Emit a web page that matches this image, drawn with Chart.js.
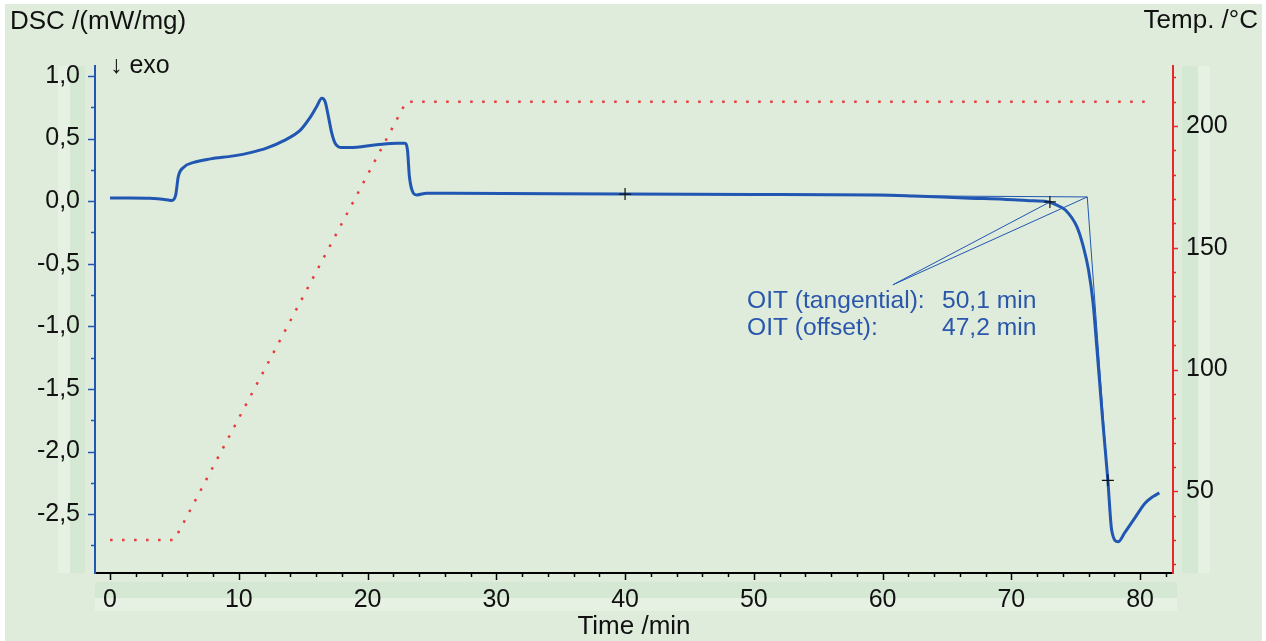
<!DOCTYPE html>
<html lang="en">
<head>
<meta charset="UTF-8" />
<title>DSC – OIT</title>
<script src="https://cdn.jsdelivr.net/npm/chart.js"></script>
<style>
  body { margin: 0; background: #fff; }
  canvas { display: block; }
</style>
</head>
<body>
<canvas id="dscChart" width="1266" height="641"></canvas>
<script>
  // DSC signal (mW/mg) over time (min)
  const dscTime = [0, 1.5, 3.1, 4.5, 4.8, 5.1, 5.3, 5.7, 6.5, 7.8, 9.6, 10.9, 12.2, 13.5, 14.8, 15.5, 16.05, 16.44, 16.7, 16.96, 17.22, 17.48, 18.0, 18.6, 20.7, 22.3, 22.9, 23.1, 23.25, 23.56, 23.82, 24.6, 26.4, 40, 50, 59.8, 62.4, 66.8, 69.4, 71.2, 72.8, 73.0, 73.5, 74.2, 75.1, 75.6, 76.0, 76.35, 76.66, 77.1, 77.5, 77.8, 78.3, 78.8, 79.6, 80.4, 81.0, 81.5];
  const dscValue = [0.026, 0.026, 0.024, 0.01, 0.005, 0.05, 0.197, 0.27, 0.31, 0.338, 0.362, 0.388, 0.426, 0.484, 0.57, 0.663, 0.756, 0.823, 0.797, 0.676, 0.543, 0.463, 0.428, 0.428, 0.45, 0.463, 0.463, 0.41, 0.197, 0.064, 0.05, 0.064, 0.064, 0.057, 0.054, 0.05, 0.042, 0.024, 0.016, 0.005, -0.004, -0.008, -0.03, -0.07, -0.205, -0.365, -0.55, -0.81, -1.19, -1.75, -2.23, -2.63, -2.72, -2.65, -2.53, -2.41, -2.36, -2.33];

  // furnace temperature (°C), right axis
  const tempTime = [0, 5.0, 23.0, 80.8];
  const tempValue = [30, 30, 210, 210];

  // evaluation marks and construction lines
  const markTime = [40.0, 73.0, 77.5];
  const markValue = [0.057, -0.006, -2.23];
  const baseTime = [40.0, 75.9];
  const baseValue = [0.057, 0.034];
  const tangentTime = [75.9, 77.5];
  const tangentValue = [0.034, -2.23];
  const pointerTime = [73.0, 60.8, 75.9];
  const pointerValue = [-0.006, -0.668, 0.034];

  const oitLabels = ['OIT (tangential):', 'OIT (offset):'];
  const oitValues = ['50,1 min', '47,2 min'];

  // tick marks
  const xTickValues = [0, 2, 4, 6, 8, 10, 12, 14, 16, 18, 20, 22, 24, 26, 28, 30, 32, 34, 36, 38, 40, 42, 44, 46, 48, 50, 52, 54, 56, 58, 60, 62, 64, 66, 68, 70, 72, 74, 76, 78, 80, 82];
  const dscTickValues = [1.0, 0.75, 0.5, 0.25, 0, -0.25, -0.5, -0.75, -1.0, -1.25, -1.5, -1.75, -2.0, -2.25, -2.5, -2.75];
  const tempTickValues = [20, 30, 40, 50, 60, 70, 80, 90, 100, 110, 120, 130, 140, 150, 160, 170, 180, 190, 200, 210, 220];

  const BLUE = '#2157b2';
  const RED = '#e8292b';
  const FONT = "'Liberation Sans', Arial, sans-serif";

  function pts(xs, ys) {
    return xs.map((x, i) => ({ x: x, y: ys[i] }));
  }

  const decor = {
    id: 'decor',
    beforeDraw(chart) {
      const ctx = chart.ctx;
      const a = chart.chartArea;
      ctx.save();
      ctx.fillStyle = '#ffffff';
      ctx.fillRect(0, 0, chart.width, chart.height);
      ctx.fillStyle = '#dfecdb';
      ctx.fillRect(5, 4, 1257, 637);
      // faint scroll strips
      ctx.fillStyle = '#e6f0e3';
      ctx.fillRect(58, a.top, 12, a.bottom - a.top);
      ctx.fillRect(1198, a.top, 12, a.bottom - a.top);
      ctx.fillRect(a.left, 598, a.right - a.left + 4, 13);
      ctx.fillStyle = '#d5e8d4';
      ctx.fillRect(70, a.top, 15, a.bottom - a.top);
      ctx.fillRect(1182, a.top, 16, a.bottom - a.top);
      ctx.fillRect(a.left, 582, a.right - a.left + 4, 16);
      ctx.restore();
    },
    afterDraw(chart) {
      const ctx = chart.ctx;
      const a = chart.chartArea;
      const sx = chart.scales.x, sy = chart.scales.y, st = chart.scales.temp;
      ctx.save();
      // tick marks
      ctx.lineWidth = 1.5;
      ctx.strokeStyle = '#000';
      xTickValues.forEach(v => {
        const px = Math.round(sx.getPixelForValue(v)) + 0.5;
        const len = v % 10 === 0 ? 7 : 4;
        ctx.beginPath(); ctx.moveTo(px, a.bottom); ctx.lineTo(px, a.bottom + len); ctx.stroke();
      });
      ctx.strokeStyle = BLUE;
      dscTickValues.forEach(v => {
        const py = Math.round(sy.getPixelForValue(v)) + 0.5;
        const len = Math.abs(v * 2 - Math.round(v * 2)) < 1e-6 ? 7 : 4;
        ctx.beginPath(); ctx.moveTo(a.left, py); ctx.lineTo(a.left - len, py); ctx.stroke();
      });
      ctx.strokeStyle = RED;
      tempTickValues.forEach(v => {
        const py = Math.round(st.getPixelForValue(v)) + 0.5;
        const len = v % 50 === 0 ? 5 : 3;
        ctx.beginPath(); ctx.moveTo(a.right, py); ctx.lineTo(a.right + len, py); ctx.stroke();
      });

      // titles
      ctx.fillStyle = '#111';
      ctx.font = '26px ' + FONT;
      ctx.textBaseline = 'alphabetic';
      ctx.textAlign = 'left';
      ctx.fillText('DSC /(mW/mg)', 10, 29);
      ctx.font = '25px ' + FONT;
      ctx.fillText('\u2193 exo', 110, 73);
      ctx.font = '26px ' + FONT;
      ctx.textAlign = 'right';
      ctx.fillText('Temp. /\u00b0C', 1258, 28);
      ctx.textAlign = 'center';
      ctx.fillText('Time /min', (a.left + a.right) / 2, 634);

      // OIT results
      ctx.font = '24.6px ' + FONT;
      ctx.fillStyle = '#2a56ab';
      ctx.textAlign = 'left';
      oitLabels.forEach((t, i) => {
        ctx.fillText(t, 747, 308 + i * 27);
        ctx.fillText(oitValues[i], 942, 308 + i * 27);
      });
      ctx.restore();
    }
  };

  new Chart(document.getElementById('dscChart'), {
    type: 'scatter',
    data: {
      datasets: [
        {
          label: 'DSC',
          data: pts(dscTime, dscValue),
          showLine: true,
          borderColor: BLUE,
          borderWidth: 3,
          pointRadius: 0,
          cubicInterpolationMode: 'monotone',
          yAxisID: 'y',
          order: 1
        },
        {
          label: 'Temp',
          data: pts(tempTime, tempValue),
          showLine: true,
          borderColor: '#e83a3a',
          borderWidth: 2.5,
          borderDash: [2.5, 9.5],
          pointRadius: 0,
          yAxisID: 'temp',
          order: 2
        },
        {
          label: 'baseline',
          data: pts(baseTime, baseValue),
          showLine: true,
          borderColor: BLUE,
          borderWidth: 1,
          pointRadius: 0,
          yAxisID: 'y',
          order: 0
        },
        {
          label: 'tangent',
          data: pts(tangentTime, tangentValue),
          showLine: true,
          borderColor: BLUE,
          borderWidth: 1,
          pointRadius: 0,
          yAxisID: 'y',
          order: 0
        },
        {
          label: 'pointer',
          data: pts(pointerTime, pointerValue),
          showLine: true,
          borderColor: BLUE,
          borderWidth: 1,
          pointRadius: 0,
          yAxisID: 'y',
          order: 0
        },
        {
          label: 'marks',
          data: pts(markTime, markValue),
          showLine: false,
          pointStyle: 'cross',
          pointRadius: 6,
          borderColor: '#111',
          borderWidth: 1.2,
          yAxisID: 'y',
          order: -1
        }
      ]
    },
    options: {
      responsive: false,
      animation: false,
      devicePixelRatio: 1,
      layout: { padding: { top: 66, left: 0, right: 0, bottom: 0 } },
      plugins: { legend: { display: false }, tooltip: { enabled: false } },
      scales: {
        x: {
          type: 'linear',
          position: 'bottom',
          min: -1.17,
          max: 82.56,
          border: { display: true, color: '#000', width: 2 },
          grid: { display: false, drawTicks: false },
          ticks: {
            stepSize: 10,
            includeBounds: false,
            padding: 12,
            color: '#111',
            font: { family: FONT, size: 25 },
            callback: v => String(v)
          },
          afterFit(scale) { scale.height = 68; }
        },
        y: {
          type: 'linear',
          position: 'left',
          min: -2.97,
          max: 1.08,
          border: { display: true, color: BLUE, width: 2 },
          grid: { display: false, drawTicks: false },
          ticks: {
            stepSize: 0.5,
            includeBounds: false,
            padding: 15,
            color: '#111',
            font: { family: FONT, size: 25 },
            callback: v => v.toFixed(1).replace('.', ',')
          },
          afterFit(scale) { scale.width = 95; }
        },
        temp: {
          type: 'linear',
          position: 'right',
          min: 16.4,
          max: 224.7,
          border: { display: true, color: RED, width: 2 },
          grid: { display: false, drawTicks: false },
          ticks: {
            stepSize: 50,
            includeBounds: false,
            padding: 13,
            color: '#111',
            font: { family: FONT, size: 25 },
            callback: v => String(v)
          },
          afterFit(scale) { scale.width = 93; }
        }
      }
    },
    plugins: [decor]
  });
</script>
</body>
</html>
